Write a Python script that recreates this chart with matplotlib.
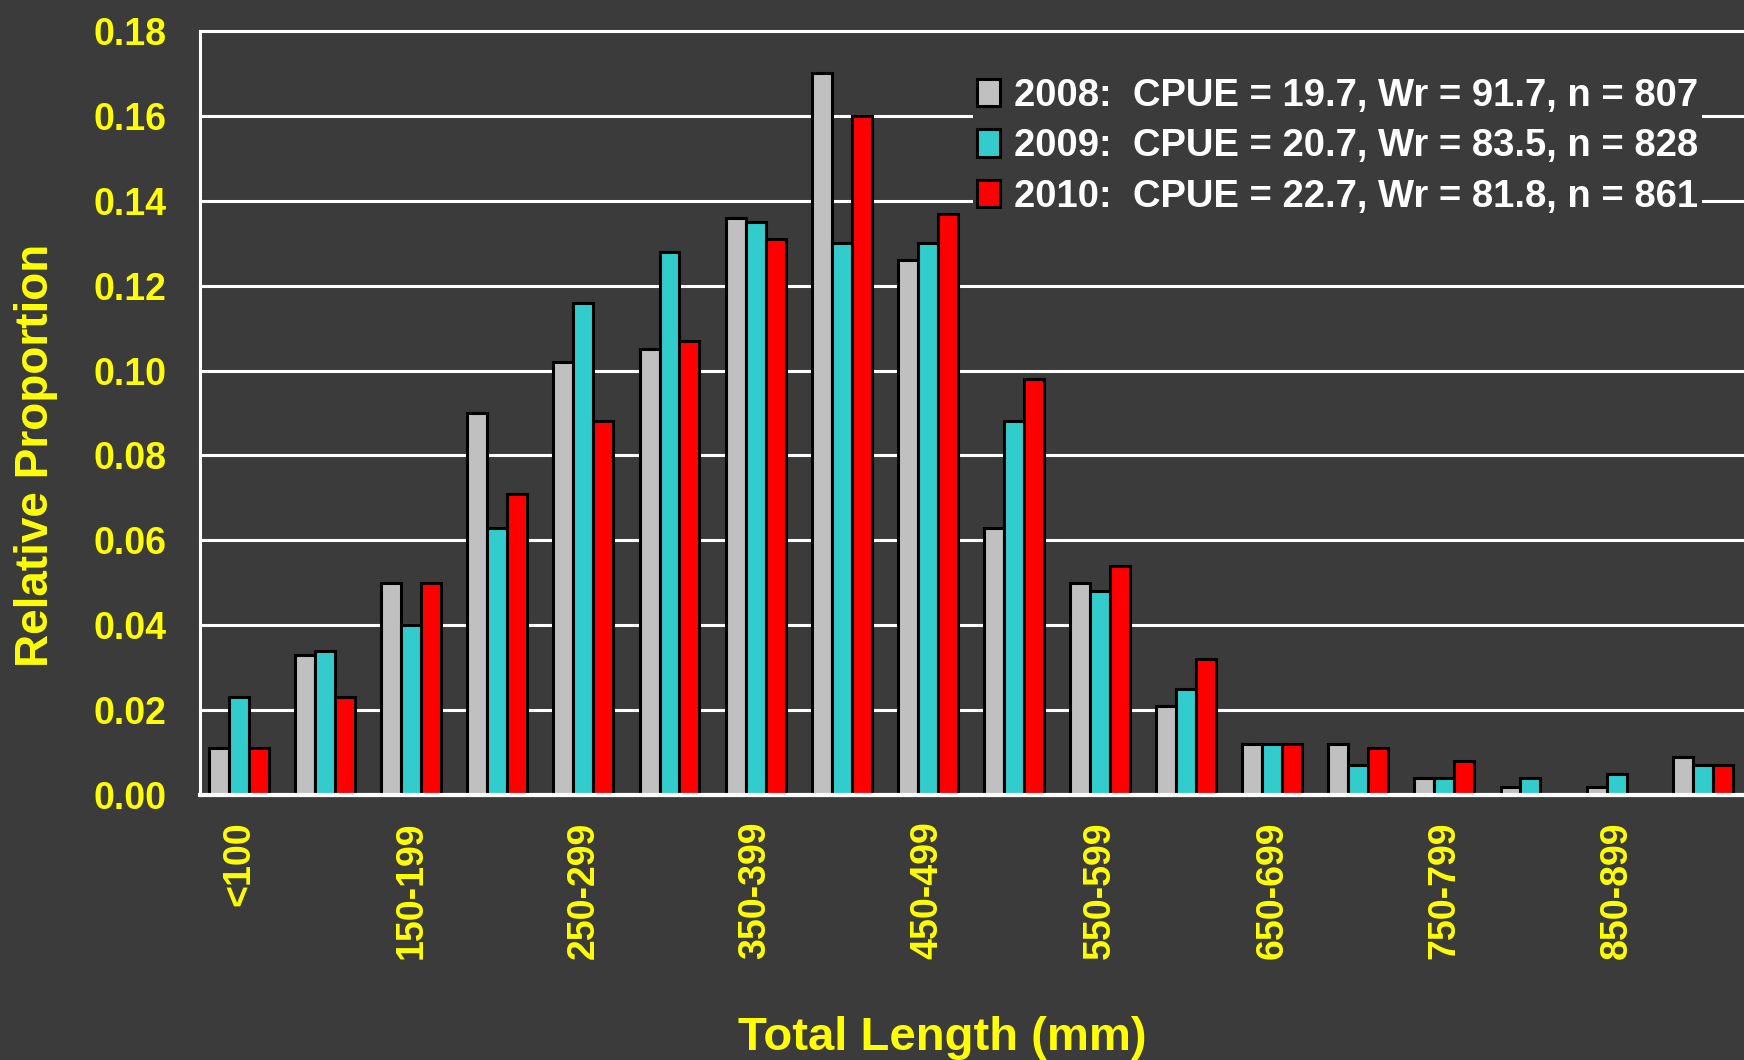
"""Length-frequency bar chart, 2008-2010 samples."""

import matplotlib

matplotlib.use("Agg")
import matplotlib.pyplot as plt
import matplotlib.patches as mpatches
import numpy as np

# data
categories = [
    "<100", "100-149", "150-199", "200-249", "250-299", "300-349",
    "350-399", "400-449", "450-499", "500-549", "550-599", "600-649",
    "650-699", "700-749", "750-799", "800-849", "850-899", ">900",
]
prop_2008 = [0.011, 0.033, 0.050, 0.090, 0.102, 0.105, 0.136, 0.170, 0.126,
             0.063, 0.050, 0.021, 0.012, 0.012, 0.004, 0.002, 0.002, 0.009]
prop_2009 = [0.023, 0.034, 0.040, 0.063, 0.116, 0.128, 0.135, 0.130, 0.130,
             0.088, 0.048, 0.025, 0.012, 0.007, 0.004, 0.004, 0.005, 0.007]
prop_2010 = [0.011, 0.023, 0.050, 0.071, 0.088, 0.107, 0.131, 0.160, 0.137,
             0.098, 0.054, 0.032, 0.012, 0.011, 0.008, 0.000, 0.000, 0.007]
series_labels = [
    "2008:  CPUE = 19.7, Wr = 91.7, n = 807",
    "2009:  CPUE = 20.7, Wr = 83.5, n = 828",
    "2010:  CPUE = 22.7, Wr = 81.8, n = 861",
]
y_ticks = [0.00, 0.02, 0.04, 0.06, 0.08, 0.10, 0.12, 0.14, 0.16, 0.18]

BG = "#3B3B3B"
YELLOW = "#FFFF00"
COLORS = ["#C0C0C0", "#33CCCC", "#FF0000"]
FONT = ["Liberation Sans", "DejaVu Sans"]

W, H = 1744, 1060
fig = plt.figure(figsize=(W / 100, H / 100), dpi=100, facecolor=BG)
ax = fig.add_axes([200 / W, 1 - 795 / H, 1544 / W, 764 / H], facecolor=BG)

x = np.arange(len(categories))
bw = 0.232
for k, vals in enumerate([prop_2008, prop_2009, prop_2010]):
    ax.bar(x + (k - 1) * bw, vals, width=bw, color=COLORS[k],
           edgecolor="black", linewidth=2.2, zorder=3)

ax.set_xlim(-0.453, 17.48)
ax.set_ylim(0, 0.18)
ax.set_yticks(y_ticks, [f"{v:.2f}" for v in y_ticks])
ax.set_xticks(x[::2], categories[::2])

ax.grid(axis="y", color="white", lw=2.2, zorder=0)
ax.grid(axis="x", visible=False)
for gl in ax.get_ygridlines():
    gl.set_clip_on(False)
ax.set_axisbelow(True)

ax.tick_params(axis="both", length=0)
ax.tick_params(axis="y", pad=24, colors=YELLOW)
ax.tick_params(axis="x", pad=19, colors=YELLOW)
for lab in ax.get_yticklabels():
    lab.set_fontfamily(FONT)
    lab.set_fontweight("bold")
    lab.set_fontsize(27)
for lab in ax.get_xticklabels():
    lab.set_fontfamily(FONT)
    lab.set_fontweight("bold")
    lab.set_fontsize(27)
    lab.set_rotation(90)
    lab.set_va("top")
    lab.set_ha("center")

ax.spines[["top", "right"]].set_visible(False)
ax.spines["left"].set_color("white")
ax.spines["left"].set_linewidth(2.2)
ax.spines["bottom"].set_color("white")
ax.spines["bottom"].set_linewidth(3)
ax.spines["bottom"].set_zorder(4)

handles = [mpatches.Patch(facecolor=c, edgecolor="black", linewidth=2.2) for c in COLORS]
leg = ax.legend(
    handles, series_labels, loc="upper left",
    bbox_to_anchor=(973 / W, 1 - 74 / H), bbox_transform=fig.transFigure,
    prop={"family": FONT, "weight": "bold", "size": 27.5},
    handlelength=0.6, handleheight=0.74, handletextpad=0.38,
    labelspacing=0.38, borderpad=0.1, borderaxespad=0,
    facecolor=BG, edgecolor="none", framealpha=1, fancybox=False,
)
leg.set_zorder(5)
for t in leg.get_texts():
    t.set_color("white")

fig.text(36 / W, 1 - 455 / H, "Relative Proportion", rotation=90,
         ha="center", va="center", color=YELLOW, fontsize=33,
         fontweight="bold", family=FONT)
fig.text(942 / W, 1 - 1050 / H, "Total Length (mm)", ha="center",
         va="baseline", color=YELLOW, fontsize=34, fontweight="bold",
         family=FONT)

fig.savefig("out.png", dpi=100, facecolor=BG)
